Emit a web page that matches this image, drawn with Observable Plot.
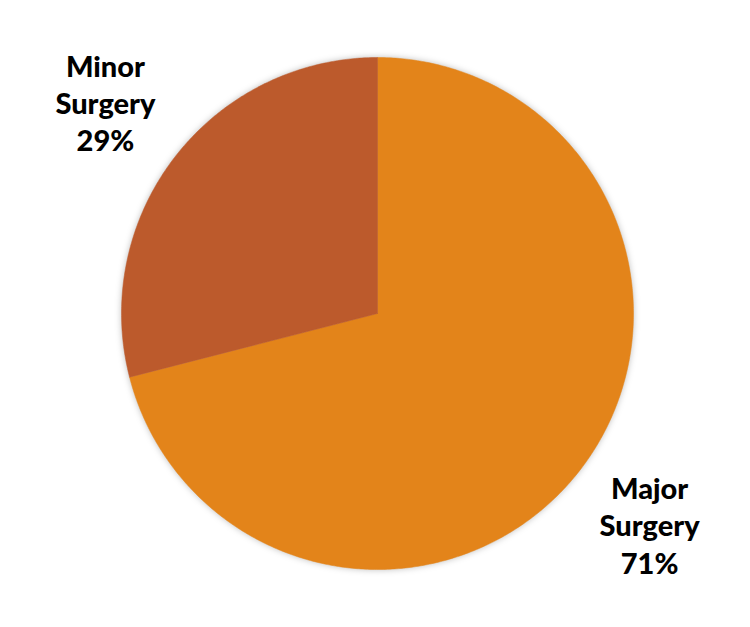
<!DOCTYPE html>
<html>
<head>
<meta charset="utf-8">
<script src="https://cdn.jsdelivr.net/npm/d3@7"></script>
<script src="https://cdn.jsdelivr.net/npm/@observablehq/plot@0.6"></script>
<style>
  html, body { margin: 0; padding: 0; background: #fff; }
  g[aria-label="line"] { filter: drop-shadow(0px 0px 3px rgba(0,0,0,0.25)); }
</style>
</head>
<body>
<div id="chart"></div>
<script>
const categories = ["Major Surgery", "Minor Surgery"];
const values = [71, 29];
const labelLines = [["Major", "Surgery", "71%"], ["Minor", "Surgery", "29%"]];
const colors = ["#E3841A", "#BC5A2C"];

const table = categories.map((c, i) => ({cat: c, value: values[i], label: labelLines[i].join("\n")}));
const arcs = d3.pie().sort(null).value(d => d.value)(table);

// polygon points for each slice (unit circle, y up), from pie angles
const pts = [];
for (const a of arcs) {
  const n = Math.max(2, Math.ceil((a.endAngle - a.startAngle) / (Math.PI / 360)));
  pts.push({cat: a.data.cat, x: 0, y: 0});
  for (let k = 0; k <= n; k++) {
    const t = a.startAngle + (a.endAngle - a.startAngle) * k / n;
    pts.push({cat: a.data.cat, x: Math.sin(t), y: Math.cos(t)});
  }
  pts.push({cat: a.data.cat, x: 0, y: 0});
}
const labels = arcs.map(a => {
  const m = (a.startAngle + a.endAngle) / 2;
  const r = 1.345;
  return {cat: a.data.cat, label: a.data.label, x: r * Math.sin(m), y: r * Math.cos(m)};
});

const W = 750, H = 627, cx = 377, cy = 313, R = 256;
const chart = Plot.plot({
  width: W, height: H,
  margin: 0,
  x: {domain: [-cx / R, (W - cx) / R], axis: null},
  y: {domain: [-(H - cy) / R, cy / R], axis: null},
  color: {domain: categories, range: colors},
  marks: [
    Plot.line(pts, {x: "x", y: "y", z: "cat", fill: "cat", stroke: "cat", strokeWidth: 0.5, curve: "linear"}),
    Plot.text(labels, {x: "x", y: "y", text: "label", fontSize: 29, fontWeight: 900, fill: "#000",
      lineHeight: 1.28, lineAnchor: "middle", textAnchor: "middle", fontFamily: "Lato, 'Open Sans', sans-serif"})
  ]
});
document.getElementById("chart").appendChild(chart);
</script>
</body>
</html>
